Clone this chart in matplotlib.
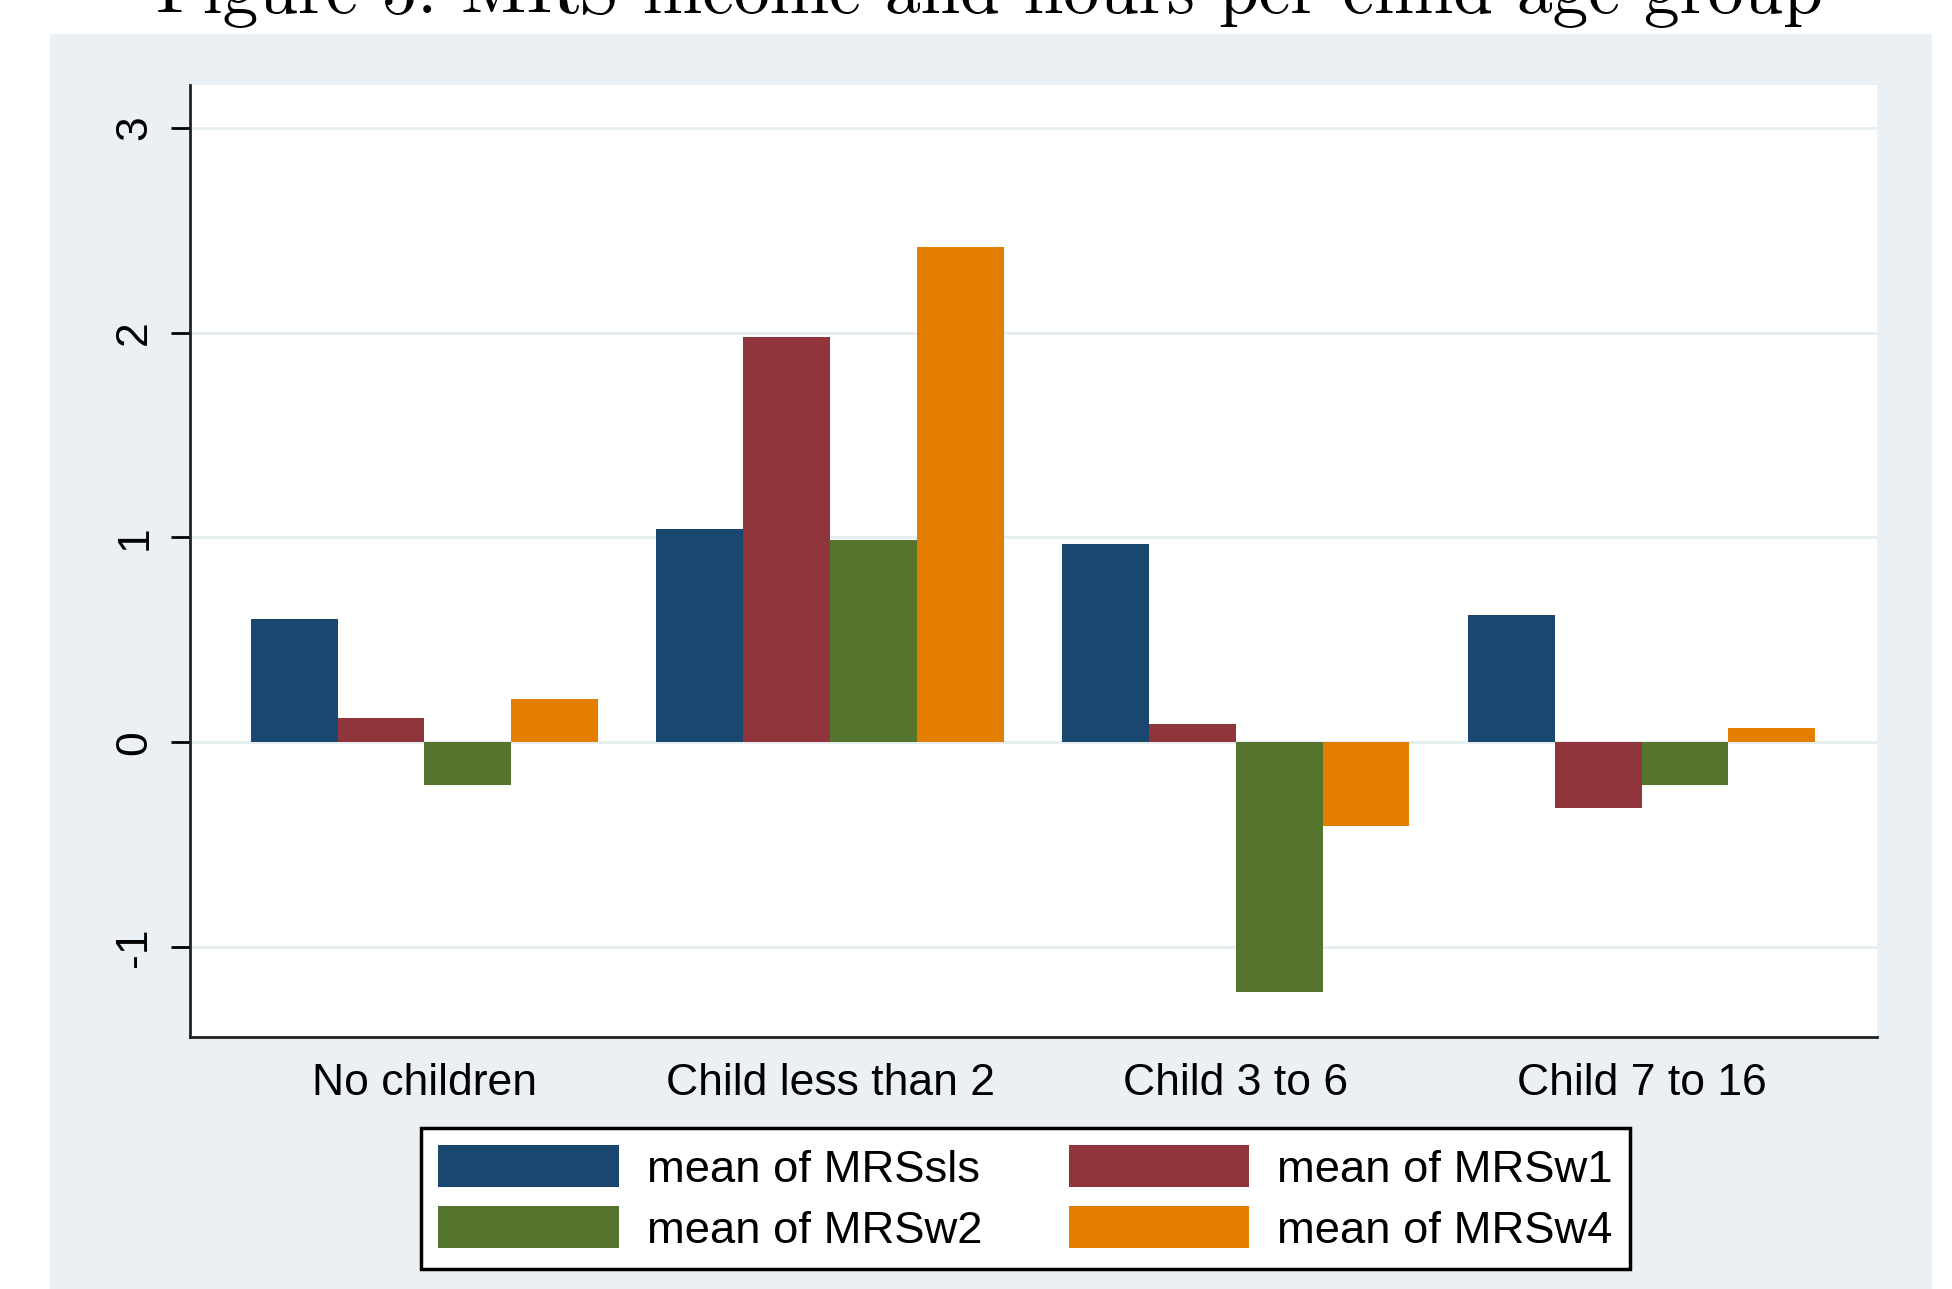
import matplotlib.pyplot as plt
import numpy as np
from matplotlib.patches import Rectangle

# Data
groups = ["No children", "Child less than 2", "Child 3 to 6", "Child 7 to 16"]
series_names = ["mean of MRSsls", "mean of MRSw1", "mean of MRSw2", "mean of MRSw4"]
mrs_sls = [0.60, 1.04, 0.97, 0.62]
mrs_w1 = [0.12, 1.98, 0.09, -0.32]
mrs_w2 = [-0.21, 0.99, -1.22, -0.21]
mrs_w4 = [0.21, 2.42, -0.41, 0.07]
yticks = [-1, 0, 1, 2, 3]

# Stata s2color palette
colors = ["#1a476f", "#90353b", "#55752f", "#e37e00"]
panel_bg = "#eaf0f3"
grid_col = "#e6eef0"

plt.rcParams["font.family"] = ["Liberation Sans", "DejaVu Sans"]

fig = plt.figure(figsize=(19.52, 12.89), dpi=100)
fig.patch.set_facecolor("white")

# grey graph region behind the plot
fig.patches.append(Rectangle((0.0256, 0.0), 0.964, 0.9736, transform=fig.transFigure,
                             facecolor=panel_bg, edgecolor="none", zorder=-5))

# title, cut at the top edge as in the source page
fig.text(0.507, 0.9900, "Figure 5: MRS income and hours per child age group",
         family=["cmr10", "DejaVu Serif"], fontsize=51.5, ha="center", va="baseline")

ax = fig.add_axes([0.0973, 0.1955, 0.8642, 0.7385])
ax.set_facecolor("white")
ax.set_zorder(2)

x = np.arange(len(groups))
width = 0.214
all_series = [mrs_sls, mrs_w1, mrs_w2, mrs_w4]
bars = []
for i, (vals, name, c) in enumerate(zip(all_series, series_names, colors)):
    bars.append(ax.bar(x + (i - 1.5) * width, vals, width, color=c, label=name, zorder=3))

ax.set_xlim(-0.578, 3.58)
ax.set_ylim(-1.44, 3.21)
ax.set_yticks(yticks)
ax.set_yticklabels([str(t) for t in yticks], rotation=90, va="center")
ax.set_xticks(x)
ax.set_xticklabels(groups)
ax.grid(axis="y", color=grid_col, linewidth=2, zorder=0)

for s in ["top", "right"]:
    ax.spines[s].set_visible(False)
for s in ["left", "bottom"]:
    ax.spines[s].set_linewidth(2)
    ax.spines[s].set_color("#222222")

ax.tick_params(axis="y", length=14, width=2, pad=11, labelsize=32)
ax.tick_params(axis="x", length=0, pad=19, labelsize=32)

# legend filled row by row: sls, w1 / w2, w4
order = [0, 2, 1, 3]
leg = fig.legend([bars[k] for k in order], [series_names[k] for k in order],
                 loc="center", bbox_to_anchor=(0.5255, 0.0702), ncol=2,
                 fontsize=32.7, handlelength=3.97, handleheight=1.05,
                 handletextpad=0.63, columnspacing=1.89, labelspacing=0.34,
                 fancybox=False, borderpad=0.38, framealpha=1)
leg.get_frame().set_edgecolor("black")
leg.get_frame().set_facecolor("white")
leg.get_frame().set_linewidth(2.5)

fig.savefig("out.png", dpi=100, facecolor=fig.get_facecolor())
